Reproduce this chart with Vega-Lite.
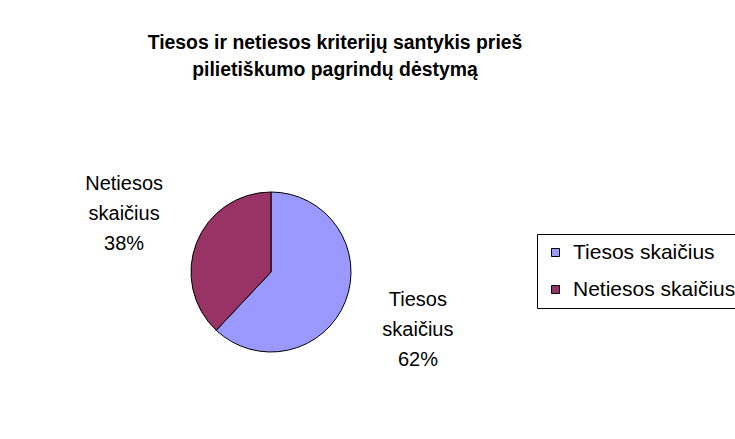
{
  "$schema": "https://vega.github.io/schema/vega-lite/v6.json",
  "autosize": {"type": "none"},
  "width": 526,
  "height": 544,
  "padding": {"left": 8, "top": 0, "right": 201, "bottom": 0},
  "background": "white",
  "title": {
    "text": ["Tiesos ir netiesos kriterijų santykis prieš", "pilietiškumo pagrindų dėstymą"],
    "anchor": "middle",
    "frame": "group",
    "offset": -80,
    "dx": 64,
    "font": "Liberation Sans",
    "fontSize": 19.4,
    "fontWeight": "bold",
    "lineHeight": 27,
    "color": "black"
  },
  "data": {
    "values": [
      {"category": "Tiesos skaičius", "value": 62},
      {"category": "Netiesos skaičius", "value": 38}
    ]
  },
  "transform": [
    {"calculate": "replace(datum.category, ' ', '\\n') + '\\n' + datum.value + '%'", "as": "label"}
  ],
  "encoding": {
    "theta": {"field": "value", "type": "quantitative", "stack": true},
    "order": {"field": "value", "type": "quantitative", "sort": "descending"}
  },
  "layer": [
    {
      "mark": {"type": "arc", "outerRadius": 80, "stroke": "black", "strokeWidth": 1},
      "encoding": {
        "color": {
          "field": "category",
          "type": "nominal",
          "scale": {"domain": ["Tiesos skaičius", "Netiesos skaičius"], "range": ["#9999FF", "#993366"]},
          "legend": {
            "orient": "none",
            "legendX": 529,
            "legendY": 234,
            "title": null,
            "symbolType": "square",
            "symbolSize": 64,
            "symbolStrokeColor": "black",
            "symbolStrokeWidth": 1,
            "symbolOpacity": 1,
            "labelFont": "Liberation Sans",
            "labelFontSize": 21,
            "labelLimit": 400,
            "labelColor": "black",
            "labelOffset": 7,
            "strokeColor": "black",
            "fillColor": "white",
            "padding": 8,
            "rowPadding": 15
          }
        }
      }
    },
    {
      "mark": {"type": "text", "radius": 158, "dy": -30, "font": "Liberation Sans", "fontSize": 20, "lineBreak": "\n", "lineHeight": 30, "color": "black"},
      "encoding": {"text": {"field": "label", "type": "nominal"}}
    }
  ]
}
